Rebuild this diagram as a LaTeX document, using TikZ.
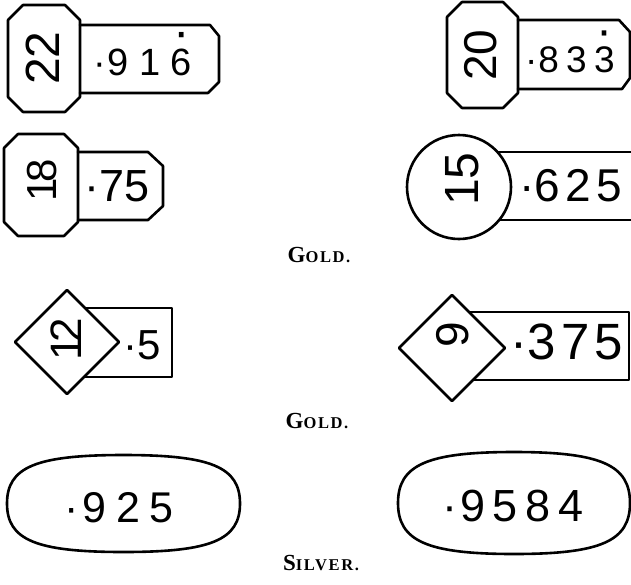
\documentclass[tikz,border=0pt]{standalone}
\usepackage{fontspec}
\newfontfamily\hm{Liberation Sans}
\newfontfamily\capf[LetterSpace=10]{Liberation Serif}
\newcommand\rdot[1]{\ooalign{#1\cr\hidewidth\smash{\raisebox{0.7em}{\scalebox{1.3}{·}}}\hidewidth\cr}}
\newcommand\gp[1]{\hspace{#1em}}
\newcommand\fs[1]{\fontsize{#1}{#1}\selectfont}
\newcommand\capt[2]{{\capf\bfseries\fs{23}#1\fs{16.5}#2}}
\tikzset{
  outline/.style={line width=2.6pt, line join=round, line cap=round},
  num/.style={inner sep=0pt, font=\hm},
  caption/.style={inner sep=0pt},
}
\begin{document}
\begin{tikzpicture}[x=1pt,y=-1pt]
\useasboundingbox (0,0) rectangle (631,584);
% ---- 22 / .916
\draw[outline] (23,5)--(65,5)--(80,20)--(80,97)--(65,112)--(23,112)--(8,97)--(8,20)--cycle;
\draw[outline] (80,25)--(210,25)--(219,36)--(219,82)--(208,93)--(80,93);
\node[num, rotate=90] (n22) at (43,58) {\fs{48}22};
\node[num] (v916) at (143,62) {\fs{38}·\gp{0.02}9\gp{0.28}1\gp{0.28}\rdot{6}};
% ---- 20 / .833
\draw[outline] (462,2)--(503,2)--(518,17)--(518,93)--(503,108)--(462,108)--(447,93)--(447,17)--cycle;
\draw[outline] (518,20)--(619,20)--(630,32)--(630,78)--(622,89)--(518,89);
\node[num, rotate=90] (n20) at (481,55) {\fs{46}20};
\node[num] (v833) at (570,60) {\fs{37}·\gp{0.02}8\gp{0.2}3\gp{0.2}\rdot{3}};
% ---- 18 / .75
\draw[outline] (18,134)--(64,134)--(78,148)--(78,222)--(64,236)--(18,236)--(4,222)--(4,148)--cycle;
\draw[outline] (78,152)--(148,152)--(163,166)--(163,206)--(148,220)--(78,220);
\node[num, rotate=90] (n18) at (42,180) {\fs{42}1\hspace{-0.1em}8};
\node[num] (v75) at (117,186) {\fs{45}·75};
% ---- 15 / .625
\draw[outline] (480,152)--(631,152);
\draw[outline] (480,220)--(631,220);
\draw[outline, fill=white] (459,187) circle (52pt);
\node[num, rotate=90] (n15) at (462,179) {\fs{48}15};
\node[num] (v625) at (571,186) {\fs{46}·6\gp{0.12}2\gp{0.12}5};
% ---- caption
\node[caption] (gold1) at (319,255) {\capt{G}{OLD.}};
% ---- 12 / .5
\draw[outline] (80,308) rectangle (172,377);
\draw[outline, fill=white] (67,290)--(119,342)--(67,394)--(15,342)--cycle;
\node[num, rotate=90] (n12) at (66,339) {\fs{44}1\hspace{-0.15em}2};
\node[num] (v5) at (142,345) {\fs{42}·5};
% ---- 9 / .375
\draw[outline] (440,312) rectangle (629,380);
\draw[outline, fill=white] (452,295)--(505,348)--(452,401)--(399,348)--cycle;
\node[num, rotate=90] (n9) at (453,335) {\fs{46}9};
\node[num] (v375) at (567,342) {\fs{51}·3\gp{0.1}7\gp{0.1}5};
% ---- caption
\node[caption] (gold2) at (317,421) {\capt{G}{OLD.}};
% ---- .925
\draw[outline] (240,503.5) .. controls (240,467) and (211,455) .. (123.5,455)
  .. controls (36,455) and (7,467) .. (7,503.5)
  .. controls (7,540) and (36,552) .. (123.5,552)
  .. controls (211,552) and (240,540) .. (240,503.5) -- cycle;
\node[num] (v925) at (119,508) {\fs{43}·\gp{0.1}9\gp{0.22}2\gp{0.22}5};
% ---- .9584
\draw[outline] (630,503) .. controls (630,465) and (601,452) .. (514,452)
  .. controls (427,452) and (398,465) .. (398,503)
  .. controls (398,541) and (427,554) .. (514,554)
  .. controls (601,554) and (630,541) .. (630,503) -- cycle;
\node[num] (v9584) at (513,506) {\fs{45}·\gp{0.05}9\gp{0.17}5\gp{0.17}8\gp{0.17}4};
% ---- caption
\node[caption] (silver) at (321,563) {\capt{S}{ILVER.}};
\end{tikzpicture}
\end{document}
